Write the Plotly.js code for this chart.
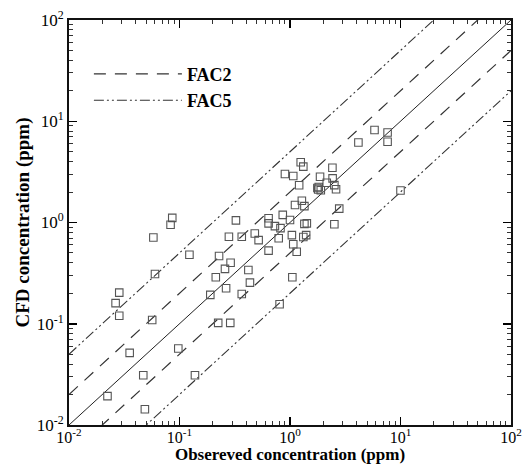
<!DOCTYPE html>
<html>
<head>
<meta charset="utf-8">
<script src="https://cdn.plot.ly/plotly-3.0.1.min.js"></script>
<style>html,body{margin:0;padding:0;background:#fff;}#chart{width:527px;height:464px;}</style>
</head>
<body>
<div id="chart"></div>
<script>
// Observed concentration (ppm)
var observed = [5.82, 7.64, 7.64, 4.16, 10.0,
  1.25, 1.32, 0.90, 1.07, 2.42, 1.87, 2.43, 1.21, 2.15, 1.77, 1.82, 1.80, 1.90, 2.52, 2.61,
  1.28, 1.35, 1.11, 2.79, 0.64, 0.64, 0.86, 1.00, 1.42, 1.35, 2.52, 0.73, 0.82,
  0.324, 0.28, 0.366, 0.48, 0.52, 0.79, 1.04, 1.32, 1.40, 1.07, 1.15, 0.64,
  0.228, 0.123, 0.29, 0.258, 0.213, 0.42, 0.434, 1.05, 0.264, 0.19, 0.366, 0.805,
  0.224, 0.288, 0.086, 0.083, 0.058, 0.060, 0.0285, 0.0264, 0.0285, 0.0566,
  0.0354, 0.047, 0.0223, 0.0486, 0.0975, 0.138];
// CFD concentration (ppm)
var cfd = [8.2, 7.74, 6.27, 6.17, 2.07,
  3.94, 3.56, 3.01, 2.88, 3.47, 2.83, 2.73, 2.33, 2.47, 2.19, 2.24, 2.12, 2.08, 2.34, 2.13,
  1.64, 1.45, 1.49, 1.37, 1.10, 0.98, 1.19, 1.06, 0.98, 0.97, 0.96, 0.92, 0.88,
  1.05, 0.724, 0.724, 0.78, 0.67, 0.70, 0.75, 0.72, 0.75, 0.61, 0.515, 0.527,
  0.467, 0.48, 0.40, 0.348, 0.288, 0.34, 0.255, 0.288, 0.224, 0.193, 0.197, 0.156,
  0.102, 0.102, 1.11, 0.95, 0.71, 0.31, 0.203, 0.16, 0.12, 0.109,
  0.0516, 0.031, 0.0193, 0.0143, 0.057, 0.031];

// reference lines
var lineX = [0.01, 100];
var fac2 = 2, fac5 = 5;
var tickVals = [0.01, 0.1, 1, 10, 100];
var tickText = ['10<sup>-2</sup>', '10<sup>-1</sup>', '10<sup>0</sup>', '10<sup>1</sup>', '10<sup>2</sup>'];

var minorVals = [];
for (var e = -2; e < 2; e++) {
  for (var m = 2; m <= 9; m++) minorVals.push(m * Math.pow(10, e));
}

function band(f) {
  return {
    x: [lineX[0], lineX[1], null, lineX[0], lineX[1]],
    y: [lineX[0] * f, lineX[1] * f, null, lineX[0] / f, lineX[1] / f]
  };
}
var b2 = band(fac2), b5 = band(fac5);

var serif = 'Liberation Serif, Times New Roman, serif';

var traces = [
  {x: lineX, y: lineX, mode: 'lines', line: {color: '#222', width: 1}, showlegend: false, hoverinfo: 'skip'},
  {x: b2.x, y: b2.y, mode: 'lines', name: 'FAC2', connectgaps: false,
   line: {color: '#333', width: 1.2, dash: '12px,9px'}},
  {x: b5.x, y: b5.y, mode: 'lines', name: 'FAC5', connectgaps: false,
   line: {color: '#333', width: 1.1, dash: '10px,3px,2px,3px,2px,3px'}},
  {x: observed, y: cfd, mode: 'markers', showlegend: false,
   marker: {symbol: 'square-open', size: 7.5, color: '#555', line: {width: 1.1, color: '#555'}}}
];

var axisCommon = {
  type: 'log',
  range: [-2, 2],
  tickmode: 'array',
  tickvals: tickVals,
  ticktext: tickText,
  ticks: 'inside',
  ticklen: 8,
  tickwidth: 1.5,
  tickcolor: '#000',
  showline: true,
  linecolor: '#111',
  linewidth: 2,
  mirror: 'allticks',
  showgrid: false,
  zeroline: false,
  tickfont: {family: serif, size: 17, color: '#000'},
  minor: {tickmode: 'array', tickvals: minorVals, ticks: 'inside', ticklen: 4, tickwidth: 1, tickcolor: '#333', showgrid: false}
};

var layout = {
  width: 527,
  height: 464,
  margin: {l: 69, r: 16, t: 20, b: 39},
  paper_bgcolor: '#fff',
  plot_bgcolor: '#fff',
  showlegend: true,
  legend: {
    x: 0.045, y: 0.912, xanchor: 'left', yanchor: 'top',
    bgcolor: 'rgba(0,0,0,0)',
    font: {family: serif, size: 18, color: '#000', weight: 'bold'},
    tracegroupgap: 0,
    itemwidth: 88
  },
  xaxis: Object.assign({}, axisCommon, {
    tickfont: {family: serif, size: 16, color: '#000'},
    ticklabelstandoff: -3,
    title: {text: 'Obsereved concentration (ppm)', standoff: 0,
      font: {family: serif, size: 17, color: '#000', weight: 'bold'}}
  }),
  yaxis: Object.assign({}, axisCommon, {
    title: {text: 'CFD concentration (ppm)', standoff: 2,
      font: {family: serif, size: 19, color: '#000', weight: 'bold'}}
  })
};

Plotly.newPlot('chart', traces, layout, {displayModeBar: false, staticPlot: true});
</script>
</body>
</html>
